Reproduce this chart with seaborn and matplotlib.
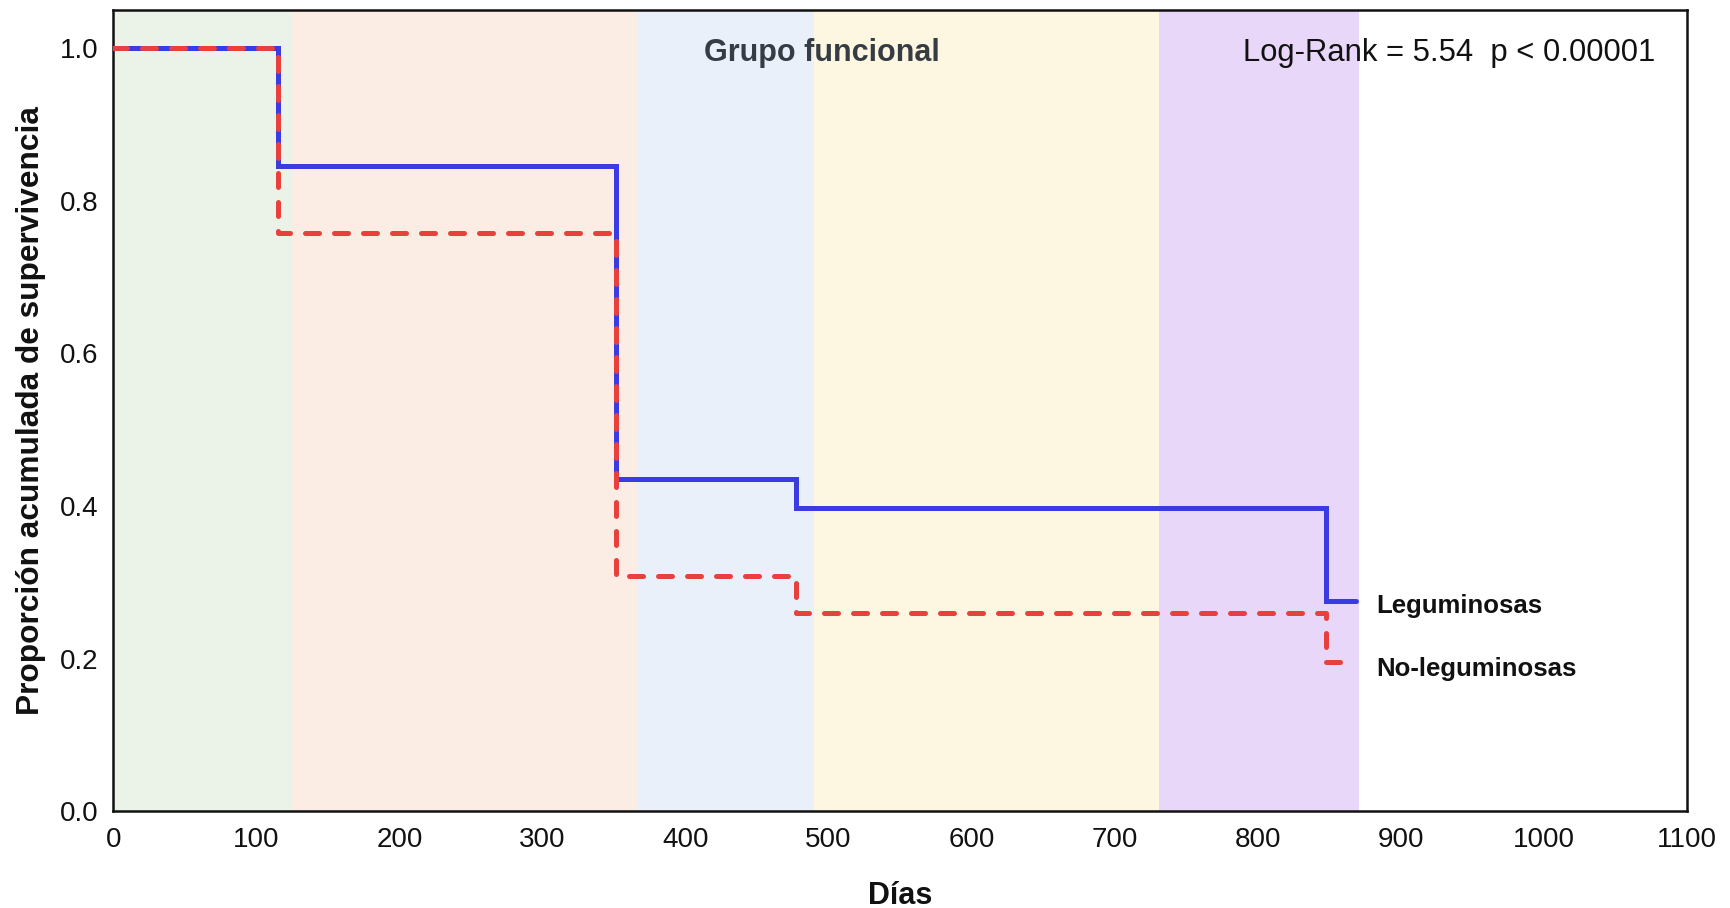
import matplotlib
matplotlib.use('Agg')

import seaborn as sns
import pandas as pd
import matplotlib.pyplot as plt
from matplotlib import font_manager

sns.set_theme(style="white")

installed = {f.name for f in font_manager.fontManager.ttflist}
main_font = 'Liberation Sans' if 'Liberation Sans' in installed else 'DejaVu Sans'
tick_font = 'Liberation Sans Narrow' if 'Liberation Sans Narrow' in installed else main_font
plt.rcParams['font.family'] = [main_font, 'DejaVu Sans']

# survival steps (days, cumulative proportion)
leg_days = [0, 115, 351, 477, 848, 869]
leg_surv = [1.0, 0.846, 0.436, 0.397, 0.276, 0.276]
noleg_days = [0, 115, 351, 477, 848, 868]
noleg_surv = [1.0, 0.758, 0.308, 0.260, 0.196, 0.196]

# shaded periods
band_edges = [0, 125, 366, 490, 731, 871]
band_colors = ['#ebf3e8', '#fcede4', '#e9f0fa', '#fdf6e1', '#e9d7fa']

x_ticks = [0, 100, 200, 300, 400, 500, 600, 700, 800, 900, 1000, 1100]
y_ticks = [0.0, 0.2, 0.4, 0.6, 0.8, 1.0]

leg = pd.DataFrame({'dias': leg_days, 'surv': leg_surv})
noleg = pd.DataFrame({'dias': noleg_days, 'surv': noleg_surv})

fig = plt.figure(figsize=(17.3, 9.08), dpi=100)
ax = fig.add_axes([0.0656, 0.1063, 0.9094, 0.8827])

for lo, hi, c in zip(band_edges[:-1], band_edges[1:], band_colors):
    ax.axvspan(lo, hi, color=c, lw=0, zorder=0)

sns.lineplot(data=leg, x='dias', y='surv', ax=ax, color='#3b3be3',
             drawstyle='steps-post', lw=3.6, estimator=None, sort=False,
             solid_joinstyle='miter', zorder=3)
sns.lineplot(data=noleg, x='dias', y='surv', ax=ax, color='#e8403c',
             drawstyle='steps-post', lw=3.6, estimator=None, sort=False,
             linestyle=(0, (2.8, 3.0)), dash_capstyle='round', zorder=4)

ax.set_xlim(0, 1100)
ax.set_ylim(0, 1.05)
ax.set_xticks(x_ticks)
ax.set_yticks(y_ticks)
ax.set_xticklabels([str(v) for v in x_ticks], fontsize=20, family=tick_font)
ax.set_yticklabels(['%.1f' % v for v in y_ticks], fontsize=20, family=tick_font)
ax.tick_params(direction='in', length=5, width=1.5, color='#222222', pad=11,
               labelcolor='#111111')

for s in ax.spines.values():
    s.set_visible(True)
    s.set_color('#111111')
    s.set_linewidth(1.8)

ax.set_xlabel('Días', fontsize=22, fontweight='bold', color='#111111', labelpad=20)
ax.set_ylabel('Proporción acumulada de supervivencia', fontsize=22.8,
              fontweight='bold', color='#111111', labelpad=10)

ax.text(495, 0.983, 'Grupo funcional', fontsize=22, fontweight='bold',
        color='#363c44', ha='center', va='baseline')
ax.text(934, 0.983, 'Log-Rank = 5.54  p < 0.00001', fontsize=22.3,
        color='#111111', ha='center', va='baseline')
ax.text(883, 0.260, 'Leguminosas', fontsize=18.5, fontweight='bold',
        color='#111111', ha='left', va='baseline')
ax.text(883, 0.177, 'No-leguminosas', fontsize=18.5, fontweight='bold',
        color='#111111', ha='left', va='baseline')

plt.savefig('out.png', dpi=100)
plt.close()
